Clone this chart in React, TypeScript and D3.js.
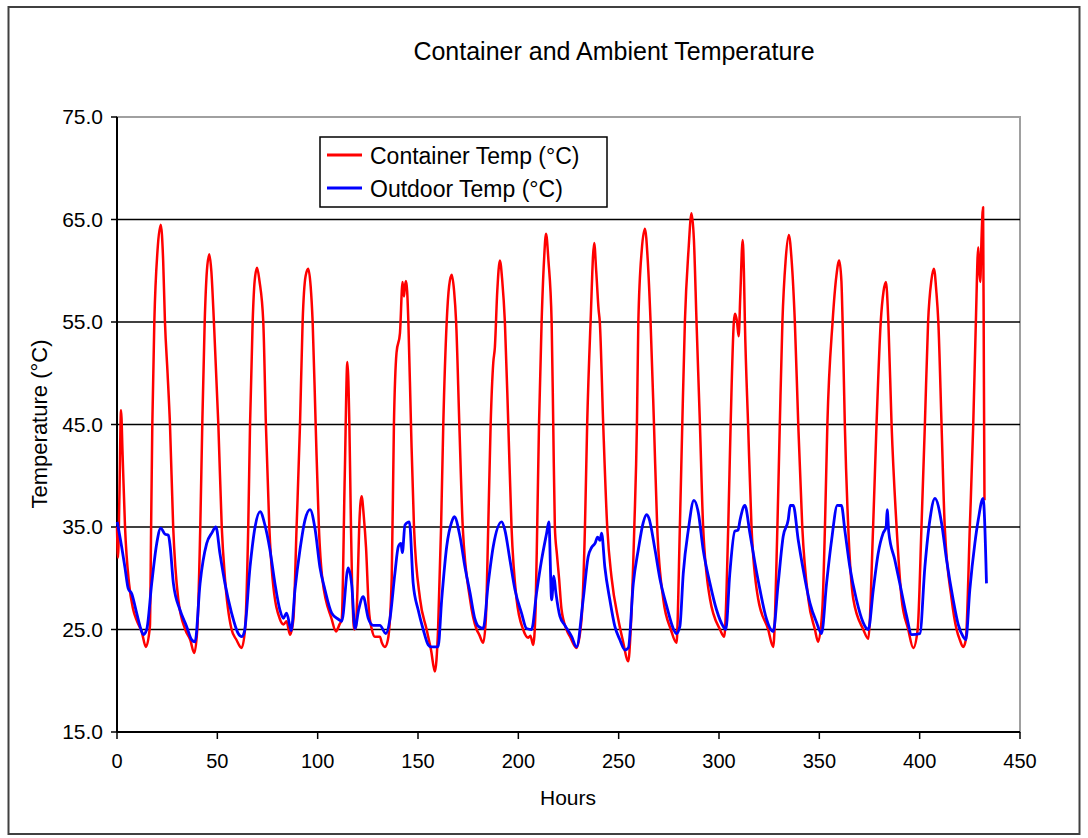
import React from 'react';
import * as d3 from 'd3';

// Container temperature readings (hours, °C)
const containerHours = [
  0, 0.5, 1.2, 2, 2.8, 4, 6, 8, 10, 12.3, 14.4, 16.4, 17, 17.6, 18.6, 20.2, 21.8, 23, 23.9, 25.2, 26.4, 28, 30.5, 34, 36.5, 38.5,
  40, 41.5, 42.5, 43.7, 44.8, 46, 47, 48.3, 50.5, 52.2, 53.8, 57.1, 59.5, 62.1,
  63.8, 65.4, 66.3, 67.6, 68.6, 69.8, 71, 72.9, 74.2, 75.9, 77.5, 81.2, 83, 84.5, 86.2,
  87.9, 89.5, 91.2, 92.5, 94, 95.3, 96.5, 97.5, 99, 100.6, 102.3, 107, 109.1, 110.9, 112,
  113.5, 114.8, 115.8, 116.6, 118.2, 119, 120, 120.7, 121.9, 123, 124.1, 125.5, 127, 128.5, 131, 132, 133.5, 135,
  136.9, 138, 139.3, 141, 142.3, 143, 143.5, 144, 144.6, 145.2, 146.5, 148, 151, 154.3, 156.5, 158.4,
  160, 161.5, 162.6, 164.3, 165.5, 166.8, 168, 169, 170.6, 172.3, 175.9, 179.2, 180.5, 182.5,
  183.8, 185, 186.2, 187.5, 188.3, 189.5, 190.8, 192, 193.3, 195, 196.6, 199.1, 202.4, 205, 206, 207.4,
  208.6, 209.4, 210.3, 211.6, 212.8, 213.8, 215, 216.6, 217.4, 218.2, 219.2, 220.3, 221.5, 224, 226, 229,
  231.5, 233.2, 234.3, 236, 237.8, 238.8, 240, 240.6, 242.3, 244.3, 246.5, 249.8, 252, 254.8,
  256, 257.8, 259.1, 259.8, 261.5, 263.1, 264.5, 265.9, 267.6, 269.2, 272.2, 276, 278.8,
  280.5, 281.7, 283, 284.8, 286.3, 287.5, 288.8, 290.5, 292.1, 295.5, 300.5, 302.6,
  304.6, 305.8, 307.4, 308, 309, 309.8, 310.6, 311.8, 312.4, 312.9, 314.5, 316.2, 319.5, 324.5, 327,
  329.1, 330.3, 331.6, 333.2, 334.8, 336.2, 337.8, 339.5, 341.5, 344.5, 347.8, 349.4,
  351.5, 352.8, 354, 356.6, 358.5, 359.9, 361, 361.6, 362.7, 364.4, 366.9, 371.9, 374.4,
  376.8, 378.5, 380.6, 382, 383.2, 384.4, 386, 388.5, 391, 394.3, 396.8,
  399, 400.9, 402.6, 404.2, 405.8, 407.1, 408.3, 409.3, 410.9, 412.5, 415.9, 418.4, 420, 421.7,
  423, 425, 426.7, 428, 429.2, 429.7, 430.2, 430.8, 431.6, 432, 432.3
];
const containerTemps = [
  35, 32, 38, 46.4, 42, 35, 29.5, 27, 25.8, 24.8, 23.3, 25.3, 35, 45, 55, 62, 64.5, 61, 55, 50, 45, 35, 28, 25, 24, 22.7,
  25, 35, 45, 55, 60, 61.6, 60, 55, 45, 35, 30, 25, 24, 23.2,
  25, 35, 45, 55, 59, 60.3, 59, 55, 45, 35, 30, 26, 25.5, 25.8, 24.5,
  26, 35, 45, 55, 59.5, 60.2, 58.5, 55, 45, 35, 30, 26, 24.8, 25.5, 26,
  40, 51.1, 45, 35, 25, 25.2, 30, 35, 38, 36, 33, 27, 25, 24.3, 24.3, 23.7, 23.3, 24,
  30, 45, 52, 53.9, 58.9, 57.5, 58.5, 59, 58, 55, 45, 35, 28, 25, 23, 20.9,
  25, 35, 45, 55, 58.5, 59.6, 58, 55, 45, 35, 28, 25, 24.5, 23.7,
  26, 35, 45, 51, 52.5, 58, 61, 59, 55, 45, 35, 28, 25, 24.2, 24.4, 23.5,
  27, 35, 45, 55, 61, 63.6, 61, 55, 45, 35, 32.4, 30, 27, 25, 24.2, 23.2,
  26, 35, 45, 55, 62.7, 60, 56.2, 55, 45, 35, 30, 26, 24, 21.9,
  25, 35, 45, 55, 62, 64.1, 61, 55, 45, 35, 28, 25, 23.7,
  35, 45, 55, 62, 65.6, 63, 55, 45, 35, 28, 25, 24.3,
  35, 45, 55, 55.8, 55, 53.6, 57.5, 63, 60, 55, 45, 35, 28, 25, 23.3,
  35, 45, 55, 61, 63.5, 61, 55, 45, 35, 28, 25, 23.8,
  27, 35, 45, 55, 59.5, 61, 59, 55, 45, 35, 28, 25, 24.1,
  35, 45, 55, 58, 58.9, 55, 45, 35, 28, 25, 23.2,
  25, 35, 45, 55, 59, 60.2, 58, 55, 45, 35, 28, 25, 24, 23.3,
  24, 35, 45, 55, 62.3, 60, 58.9, 63, 66.2, 50, 37.6
];

// Outdoor temperature readings (hours, °C)
const outdoorHours = [
  0.1, 2.3, 4, 5.6, 7.3, 9.8, 12.3, 13.1, 14.8, 17.3, 19.8, 21.8, 23.9, 25.6, 26.5, 28.1, 31.4, 34.7, 37.2, 38.9,
  41.4, 44.7, 47.2, 49.3, 51.3, 53.8, 57.1, 60.4, 62.1, 63.5, 66.3, 68.8, 71.3, 73.7, 76.2, 78.7, 81.2, 82.9, 84.5, 86.2, 86.8,
  88.7, 91.2, 93.7, 96.2, 98.7, 101.1, 103.6, 107, 110.3, 112, 115.2, 117, 118.6, 120.5, 122.7, 125.2, 127.7, 131, 134, 136,
  138.5, 140.2, 141.5, 142.2, 143.5, 145.7, 147.6, 150.1, 152.6, 155.1, 156.6, 160,
  161.8, 164.3, 166.8, 168.1, 170.9, 173.4, 175.9, 178.4, 180.1, 182.5,
  185, 187.5, 191.7, 193.3, 195.8, 198.3, 201.6, 204.1, 206.6,
  209.1, 211.6, 214.1, 215.2, 216.6, 217.7, 218.7, 220.7, 223.2, 226.6, 229,
  232.3, 234.8, 236.5, 238.2, 239.5, 240.7, 241.5, 243.1, 245.6, 248.1, 250.6, 253.1, 254.8,
  257.3, 259.8, 262.2, 263.9, 265, 268.1, 270.6, 273.9, 277.2, 278.8, 280.5,
  282.2, 284.7, 287.5, 289.7, 292.1, 295.5, 298.8, 302.1, 303.4,
  305.4, 307.9, 309.5, 310.5, 312.9, 315.4, 317.9, 320.4, 323.7, 327,
  329.5, 332, 334.5, 335.5, 337, 339.5, 342, 345.3, 348.6, 351.1,
  353.6, 356.1, 359, 361, 362.7, 365.2, 368.5, 371.8, 374.4,
  376.9, 379.3, 381.8, 383.3, 383.8, 384.6, 387.6, 390.1, 393.5, 396, 400.1,
  402.6, 405.1, 407.6, 410.9, 413.4, 416.7, 419.2, 421.7, 423,
  425, 427.5, 429.2, 431.6, 433.3
];
const outdoorTemps = [
  35.5, 33.1, 31, 29, 28.5, 26.6, 24.8, 24.5, 25, 29.5, 33.4, 34.9, 34.3, 34.2, 33.1, 29.5, 26.9, 25.3, 24, 23.8,
  29.5, 33.4, 34.4, 35, 32.4, 29.5, 26.6, 24.6, 24.3, 24.8, 31.1, 35, 36.5, 35.2, 32.8, 29.5, 26.9, 26.1, 26.6, 25.3, 24.9,
  28.9, 32.8, 35.7, 36.7, 34.8, 31.1, 28.9, 26.6, 26, 25.8, 31, 29.3, 25.1, 27, 28.2, 26.1, 25.4, 25.4, 24.6, 26,
  30.5, 33.1, 33.4, 32.5, 35.2, 35.5, 29.5, 26.9, 25, 23.5, 23.3, 23.3,
  27.9, 33.1, 35.5, 36, 34.1, 31.1, 28.6, 26, 25.3, 25.1,
  29.5, 33.1, 35.5, 34.7, 31.8, 28.9, 26.6, 25.1, 25,
  28.6, 31.8, 34.4, 35.5, 27.9, 30.2, 28.6, 26.3, 25.4, 24.3, 23.3,
  27.9, 32.1, 33, 33.4, 34, 33.7, 34.4, 31.1, 27.9, 25.3, 24, 23, 23.2,
  29.5, 32.8, 35.4, 36.2, 35.9, 32.8, 29.9, 27.3, 25.1, 24.6, 25.3,
  30.5, 34.7, 37.6, 36.4, 32.8, 29.5, 26.9, 25.3, 25,
  30.5, 34.6, 34.7, 35.7, 37.1, 34.4, 31.5, 28.9, 26, 24.8,
  29.5, 34.1, 35.7, 37.1, 37.1, 33.7, 30.8, 27.6, 25.7, 24.6,
  29.5, 33.7, 37.1, 37.1, 34.7, 31.1, 27.9, 25.7, 25,
  28.9, 32.4, 34.4, 35, 36.7, 34.5, 31.8, 29.5, 26.3, 24.5, 24.6,
  31.1, 35.7, 37.8, 35.4, 31.8, 27.9, 25.5, 24.3, 24,
  28.9, 33.4, 35.7, 37.8, 29.5
];

const xTicks = [0, 50, 100, 150, 200, 250, 300, 350, 400, 450];
const yTicks = [15, 25, 35, 45, 55, 65, 75];
const gridValues = [25, 35, 45, 55, 65];

const font = 'Arial, "Liberation Sans", sans-serif';

const App = () => {
  const left = 117, right = 1020, top = 117, bottom = 732;

  const x = d3.scaleLinear().domain([0, 450]).range([left, right]);
  const y = d3.scaleLinear().domain([15, 75]).range([bottom, top]);

  const line = d3.line<[number, number]>()
    .x(d => x(d[0]))
    .y(d => y(d[1]))
    .curve(d3.curveMonotoneX);

  const container = containerHours.map((h, i) => [h, containerTemps[i]] as [number, number]);
  const outdoor = outdoorHours.map((h, i) => [h, outdoorTemps[i]] as [number, number]);

  return (
    <svg width={1088} height={838} style={{ position: 'absolute', left: 0, top: 0, background: '#fff' }}
      fontFamily={font}>
      {/* outer frame */}
      <rect x={8.5} y={7} width={1071} height={827} fill="#fff" stroke="#404040" strokeWidth={2} />

      <text x={614} y={60} textAnchor="middle" fontSize={25} fill="#000">Container and Ambient Temperature</text>

      {/* plot border */}
      <rect x={left} y={top} width={right - left} height={bottom - top} fill="none" stroke="#a0a0a0" strokeWidth={2} />

      {gridValues.map(v => (
        <line key={v} x1={left} x2={right} y1={y(v)} y2={y(v)} stroke="#000" strokeWidth={1.5} />
      ))}

      {/* y axis */}
      <line x1={left} x2={left} y1={top} y2={bottom} stroke="#000" strokeWidth={2} />
      {yTicks.map(v => (
        <g key={v}>
          <line x1={left - 6} x2={left} y1={y(v)} y2={y(v)} stroke="#000" strokeWidth={1.5} />
          <text x={103} y={y(v) + 7} textAnchor="end" fontSize={21}>{v.toFixed(1)}</text>
        </g>
      ))}

      {/* x axis */}
      <line x1={left} x2={right} y1={bottom} y2={bottom} stroke="#000" strokeWidth={2} />
      {xTicks.map(v => (
        <g key={v}>
          <line x1={x(v)} x2={x(v)} y1={bottom} y2={bottom + 7} stroke="#000" strokeWidth={1.5} />
          <text x={x(v)} y={768} textAnchor="middle" fontSize={20}>{v}</text>
        </g>
      ))}

      <text x={568} y={805} textAnchor="middle" fontSize={21}>Hours</text>
      <text transform="translate(47,424) rotate(-90)" textAnchor="middle" fontSize={22}>Temperature (°C)</text>

      {/* series */}
      <path d={line(container) ?? ''} fill="none" stroke="#ff0000" strokeWidth={2.5} strokeLinejoin="round" />
      <path d={line(outdoor) ?? ''} fill="none" stroke="#0000ff" strokeWidth={2.8} strokeLinejoin="round" />

      {/* legend */}
      <rect x={320} y={137} width={287} height={70} fill="#fff" stroke="#000" strokeWidth={1.5} />
      <line x1={327} x2={362} y1={155} y2={155} stroke="#ff0000" strokeWidth={3} />
      <text x={370} y={164} fontSize={23}>Container Temp (°C)</text>
      <line x1={327} x2={362} y1={188} y2={188} stroke="#0000ff" strokeWidth={3} />
      <text x={370} y={197} fontSize={23}>Outdoor Temp (°C)</text>
    </svg>
  );
};

export default App;
